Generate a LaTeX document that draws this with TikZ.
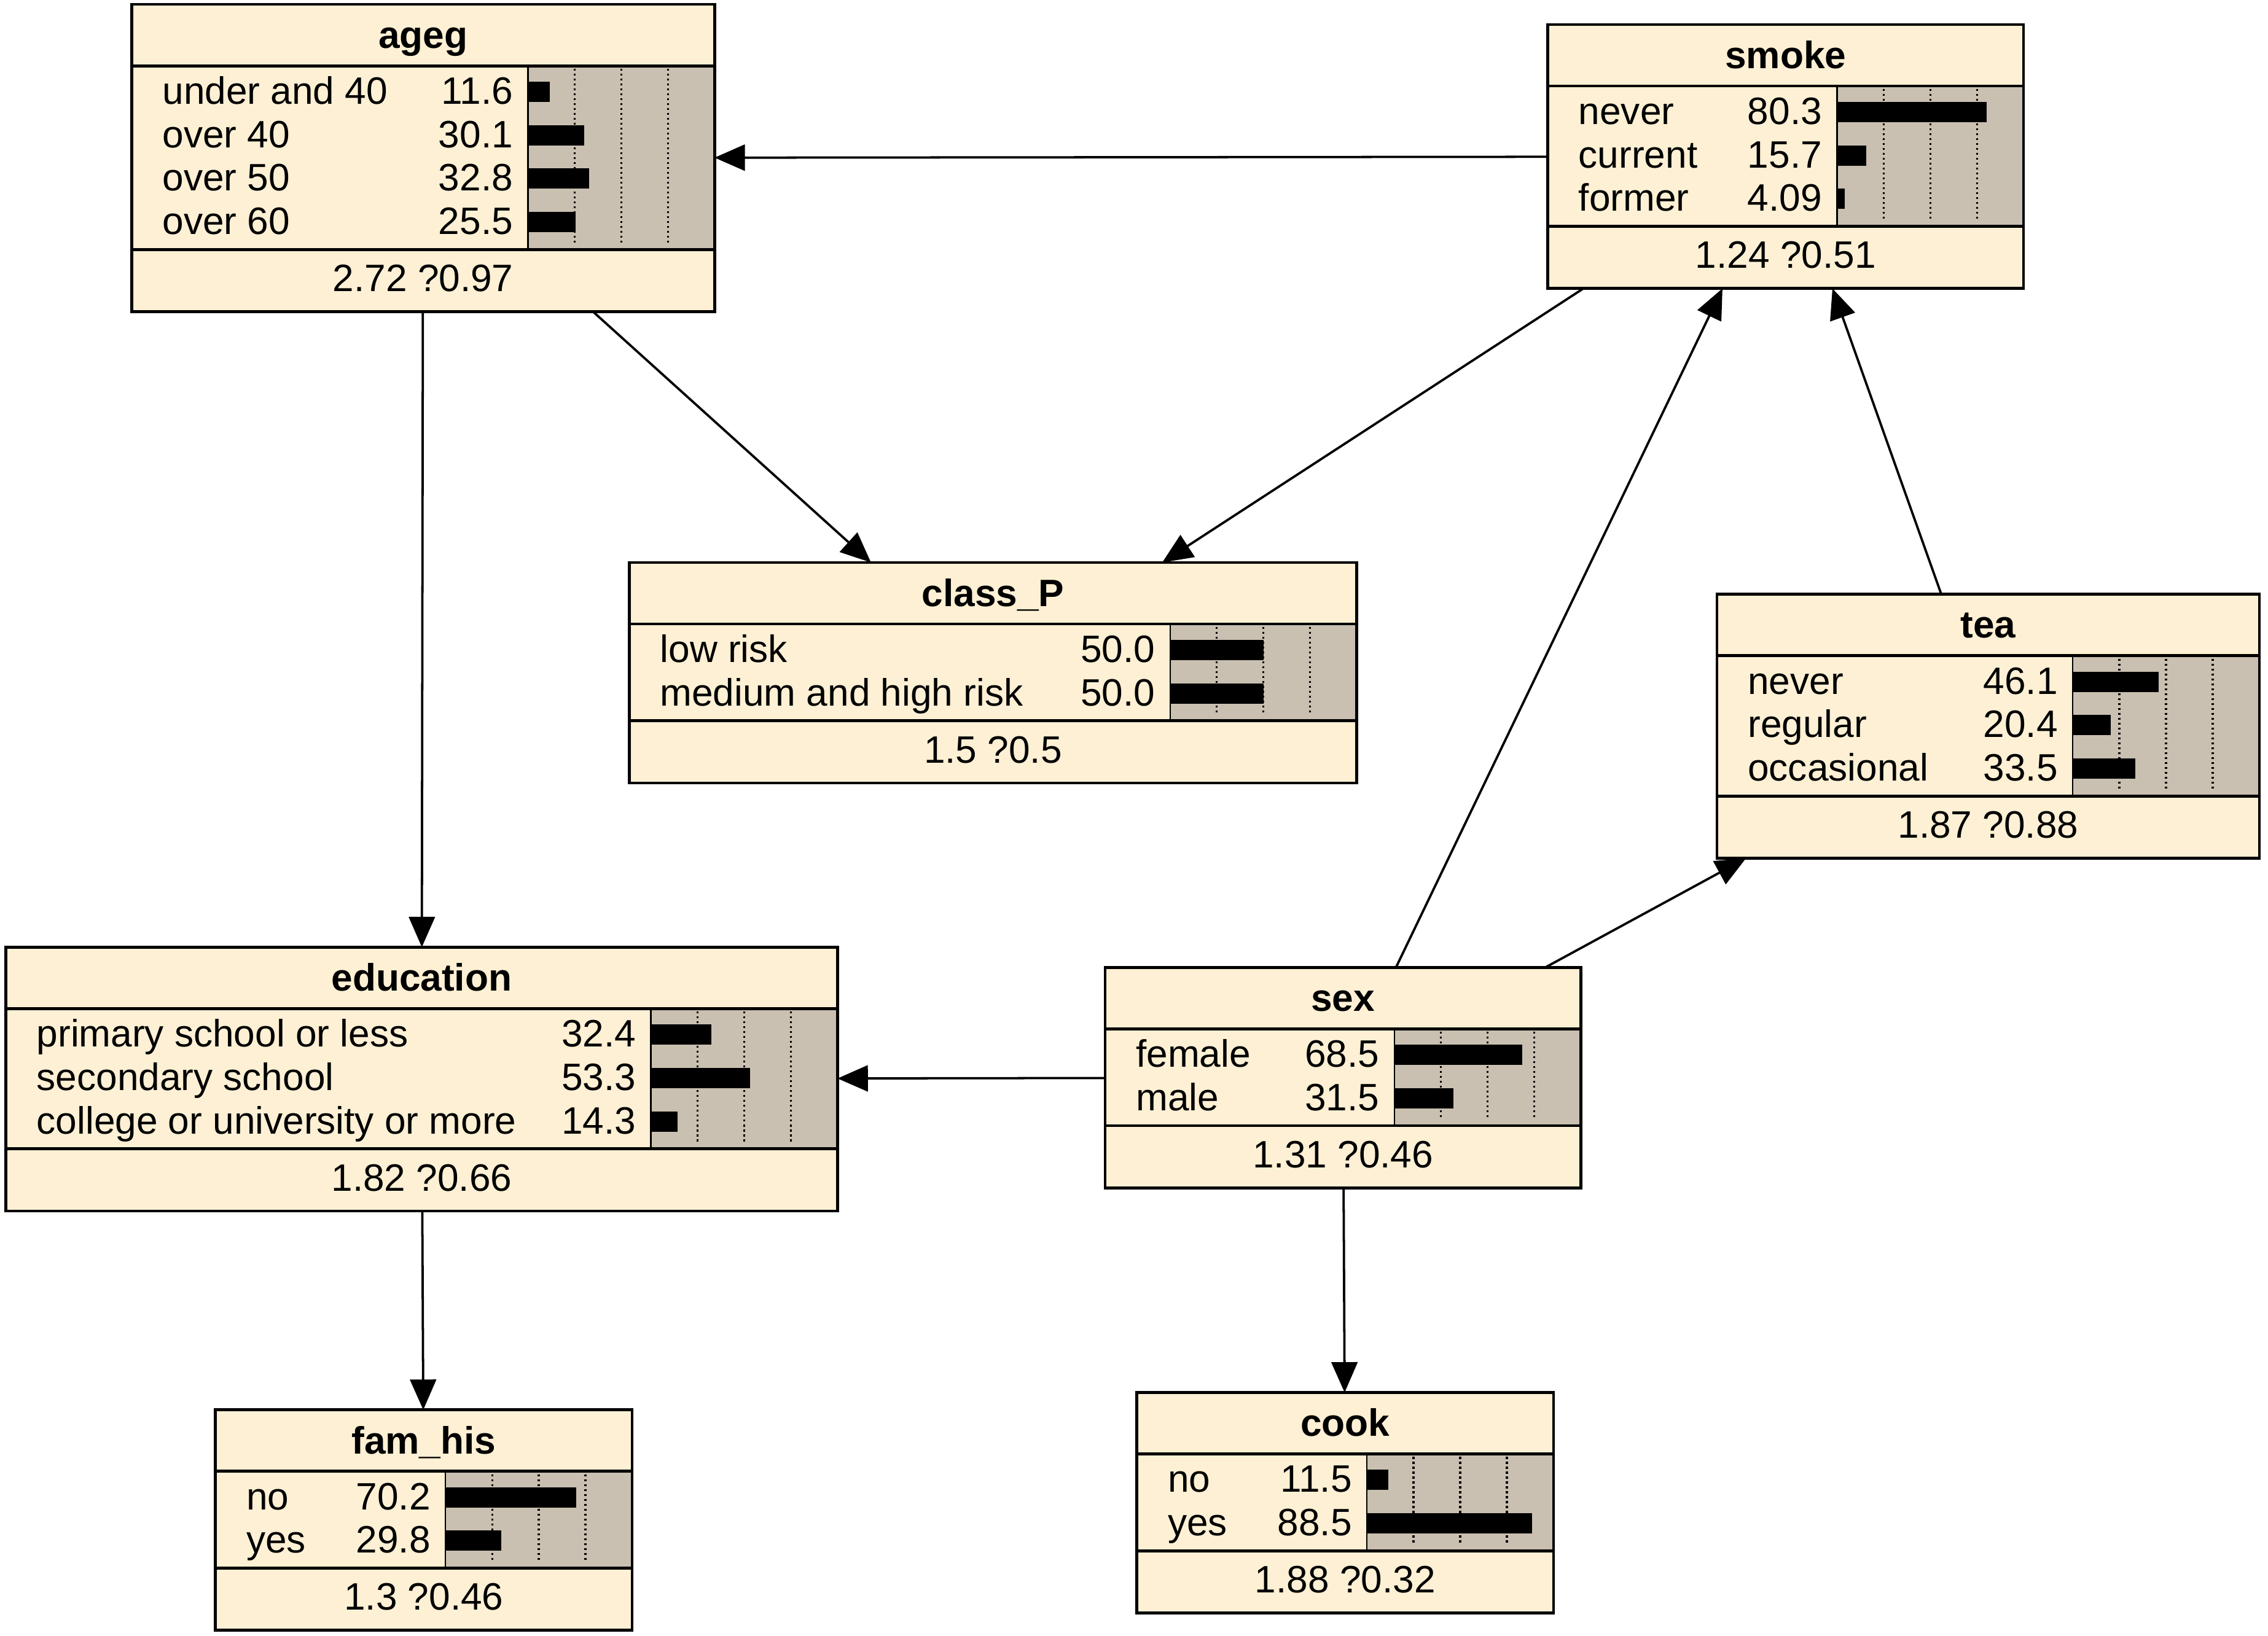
\documentclass[tikz,border=0pt]{standalone}
\usepackage{fontspec}
\setmainfont{Liberation Sans}
\usetikzlibrary{arrows.meta}

\definecolor{nodecream}{RGB}{253,240,212}
\definecolor{bargray}{RGB}{201,192,177}
\newcommand{\bnfont}{\fontsize{13.2}{15}\selectfont}

\tikzset{
  bnframe/.style={draw, line width=1pt, fill=nodecream, inner sep=0pt, outer sep=0pt},
  bnrule/.style={line width=1pt},
  bngrid/.style={line width=0.7pt, densely dotted},
  bntitle/.style={font=\bnfont\bfseries, inner sep=0pt},
  bntext/.style={font=\bnfont, inner sep=0pt},
  bnlink/.style={line width=0.8pt, -{Triangle[length=10.5pt,width=9pt]}},
}

% #1 name, #2 left, #3 top, #4 width, #5 no. of states, #6 title, #7 mean, #8 states
\newcommand{\bnnode}[8]{%
  \pgfmathsetmacro{\bnR}{#2+#4}
  \pgfmathsetmacro{\bnB}{#2+#4-129}
  \pgfmathsetmacro{\bnT}{#3+42.5}
  \pgfmathsetmacro{\bnF}{#3+49.5+30*#5}
  \pgfmathsetmacro{\bnM}{#2+#4/2}
  \node[bnframe, anchor=north west, minimum width=#4*0.5pt,
        minimum height=(92.5+30*#5)*0.5pt] (#1) at (#2,#3) {};
  \fill[bargray] (\bnB,\bnT) rectangle (\bnR,\bnF);
  \foreach \g in {0.25,0.5,0.75}
    \draw[bngrid] (\bnB+129*\g,\bnT+2) -- (\bnB+129*\g,\bnF-4);
  \foreach \lab/\val [count=\i] in {#8} {
    \pgfmathsetmacro{\rowy}{\bnT+18+30*(\i-1)}
    \node[bntext, anchor=base west] at (#2+21,\rowy+8.5) {\lab};
    \node[bntext, anchor=base east] at (\bnB-10,\rowy+8.5) {\val};
    \fill (\bnB,\rowy-7) rectangle (\bnB+1.29*\val,\rowy+7);
  }
  \node[bntitle, anchor=base] at (\bnM,\bnT-12.25) {#6};
  \node[bntext, anchor=base] at (\bnM,\bnF+29) {#7};
  \draw[line width=0.5pt] (\bnB,\bnT) -- (\bnB,\bnF);
  \draw[bnrule] (#2,\bnT) -- (\bnR,\bnT) (#2,\bnF) -- (\bnR,\bnF);
  \draw[bnrule] (#1.north west) rectangle (#1.south east);
}

\begin{document}
\begin{tikzpicture}[x=0.5pt, y=-0.5pt]
  \fill[white] (0,0) rectangle (1568,1131);

  % network nodes
  \bnnode{ageg}{91}{3}{403}{4}{ageg}{2.72 ?0.97}
    {under and 40/11.6, over 40/30.1, over 50/32.8, over 60/25.5}
  \bnnode{smoke}{1070}{17}{329}{3}{smoke}{1.24 ?0.51}
    {never/80.3, current/15.7, former/4.09}
  \bnnode{classP}{435}{389}{503}{2}{class\_P}{1.5 ?0.5}
    {low risk/50.0, medium and high risk/50.0}
  \bnnode{tea}{1187}{411}{375}{3}{tea}{1.87 ?0.88}
    {never/46.1, regular/20.4, occasional/33.5}
  \bnnode{education}{4}{655}{575}{3}{education}{1.82 ?0.66}
    {primary school or less/32.4, secondary school/53.3, college or university or more/14.3}
  \bnnode{sex}{764}{669}{329}{2}{sex}{1.31 ?0.46}
    {female/68.5, male/31.5}
  \bnnode{famhis}{149}{975}{288}{2}{fam\_his}{1.3 ?0.46}
    {no/70.2, yes/29.8}
  \bnnode{cook}{786}{963}{288}{2}{cook}{1.88 ?0.32}
    {no/11.5, yes/88.5}

  % links
  \draw[bnlink] (smoke) -- (ageg);
  \draw[bnlink] (ageg) -- (education);
  \draw[bnlink] (ageg) -- (classP);
  \draw[bnlink] (smoke) -- (classP);
  \draw[bnlink] (sex) -- (smoke);
  \draw[bnlink] (tea) -- (smoke);
  \draw[bnlink] (sex) -- (tea);
  \draw[bnlink] (sex) -- (education);
  \draw[bnlink] (sex) -- (cook);
  \draw[bnlink] (education) -- (famhis);
\end{tikzpicture}
\end{document}
